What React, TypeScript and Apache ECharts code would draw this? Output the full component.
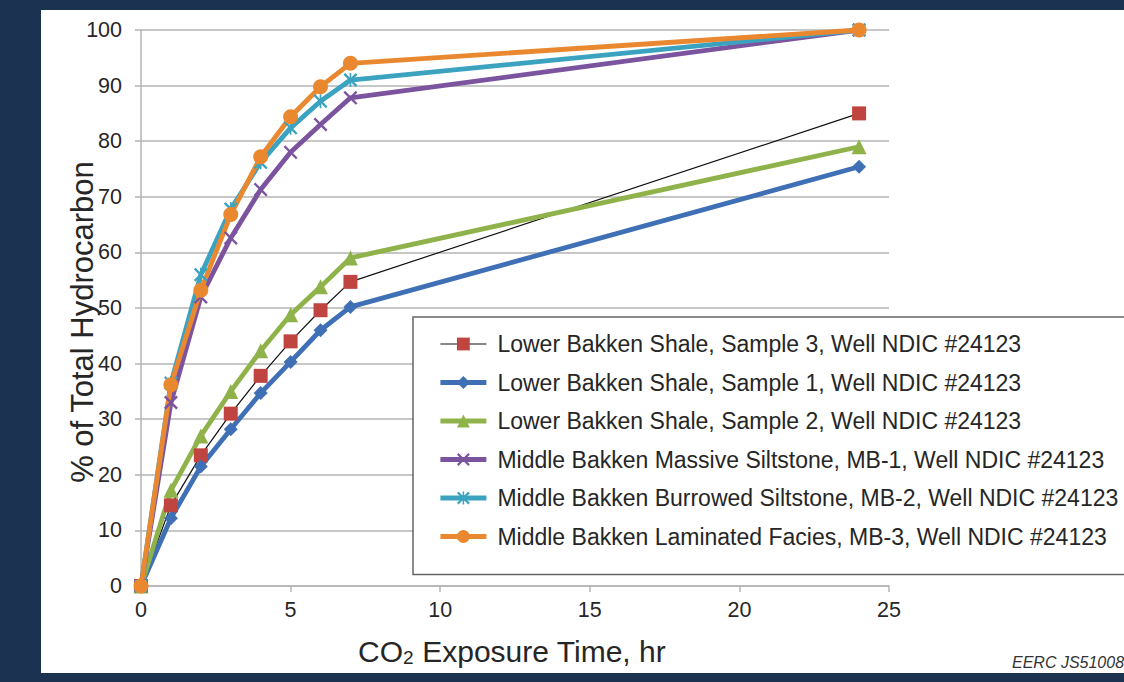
import React, { useEffect, useRef } from "react";
import * as echarts from "echarts";

const exposureHours = [0, 1, 2, 3, 4, 5, 6, 7, 24];
const seriesNames = [
  "Lower Bakken Shale, Sample 3, Well NDIC #24123",
  "Lower Bakken Shale, Sample 1, Well NDIC #24123",
  "Lower Bakken Shale, Sample 2, Well NDIC #24123",
  "Middle Bakken Massive Siltstone, MB-1, Well NDIC #24123",
  "Middle Bakken Burrowed Siltstone, MB-2, Well NDIC #24123",
  "Middle Bakken Laminated Facies, MB-3, Well NDIC #24123",
];
const lowerSample3 = [0, 14.5, 23.5, 31, 37.8, 44, 49.6, 54.7, 85];
const lowerSample1 = [0, 12.2, 21.5, 28.2, 34.7, 40.3, 46, 50.2, 75.4];
const lowerSample2 = [0, 17.2, 27, 35, 42.3, 48.8, 53.8, 59, 79];
const middleMB1 = [0, 33, 52, 62.6, 71.3, 78, 83, 87.8, 100];
const middleMB2 = [0, 36.5, 56, 67.8, 76.2, 82.4, 87.2, 91, 100];
const middleMB3 = [0, 36.2, 53.2, 66.8, 77.2, 84.4, 89.8, 94, 100];

const FONT = "'Liberation Sans', Arial, sans-serif";
const X_SYMBOL =
  "path://M0,1.2 L1.2,0 L5,3.8 L8.8,0 L10,1.2 L6.2,5 L10,8.8 L8.8,10 L5,6.2 L1.2,10 L0,8.8 L3.8,5 Z";
const STAR_SYMBOL =
  "path://M0,1.2 L1.2,0 L5,3.8 L8.8,0 L10,1.2 L6.2,5 L10,8.8 L8.8,10 L5,6.2 L1.2,10 L0,8.8 L3.8,5 Z M4.4,0 L4.4,10 L5.6,10 L5.6,0 Z";

const pairs = (ys: number[]) => exposureHours.map((x, i) => [x, ys[i]]);

export default function App() {
  const ref = useRef<HTMLDivElement>(null);
  useEffect(() => {
    if (!ref.current) return;
    const chart = echarts.init(ref.current, undefined, { renderer: "svg" });
    const thick = 4.8;
    const mk = (
      name: string,
      data: number[],
      color: string,
      symbol: string,
      size: number,
      lineColor?: string,
      lineWidth?: number
    ) => ({
      name,
      type: "line",
      data: pairs(data),
      symbol,
      symbolSize: size,
      showAllSymbol: true,
      itemStyle: { color },
      lineStyle: { color: lineColor || color, width: lineWidth || thick },
      emphasis: { disabled: true },
    });
    chart.setOption({
      animation: false,
      backgroundColor: "#1b3350",
      graphic: [
        {
          type: "rect",
          z: -10,
          shape: { x: 41, y: 10, width: 1100, height: 663 },
          style: { fill: "#ffffff" },
        },
        {
          type: "text",
          x: 82,
          y: 322,
          rotation: Math.PI / 2,
          style: {
            text: "% of Total Hydrocarbon",
            fontSize: 31,
            fontFamily: FONT,
            fill: "#262626",
            align: "center",
            verticalAlign: "middle",
          },
        },
        {
          type: "text",
          x: 512,
          y: 651,
          style: {
            text: "CO{sub|2} Exposure Time, hr",
            fontSize: 30,
            fontFamily: FONT,
            fill: "#262626",
            align: "center",
            verticalAlign: "middle",
            rich: {
              sub: {
                fontSize: 19,
                fontFamily: FONT,
                fill: "#262626",
                lineHeight: 19,
                padding: [13, 0, 0, 0],
              },
            },
          },
        },
        {
          type: "text",
          x: 1012,
          y: 662,
          style: {
            text: "EERC JS51008",
            fontSize: 16,
            fontStyle: "italic",
            fontFamily: FONT,
            fill: "#333333",
            align: "left",
            verticalAlign: "middle",
          },
        },
      ],
      grid: { left: 141, right: 235, top: 30, bottom: 96, containLabel: false },
      xAxis: {
        type: "value",
        min: 0,
        max: 25,
        interval: 5,
        axisLine: { show: true, lineStyle: { color: "#b5b5b5", width: 1.5 } },
        axisTick: { show: true, length: 6, lineStyle: { color: "#b5b5b5", width: 1.5 } },
        splitLine: { show: false },
        axisLabel: { fontSize: 21.5, color: "#262626", fontFamily: FONT, margin: 13 },
      },
      yAxis: {
        type: "value",
        min: 0,
        max: 100,
        interval: 10,
        axisLine: { show: true, lineStyle: { color: "#b5b5b5", width: 1.5 } },
        axisTick: { show: true, length: 6, lineStyle: { color: "#b5b5b5", width: 1.5 } },
        splitLine: { show: true, lineStyle: { color: "#b5b5b5", width: 1.5 } },
        axisLabel: { fontSize: 21.5, color: "#262626", fontFamily: FONT, margin: 19 },
      },
      legend: {
        orient: "vertical",
        left: 413,
        top: 317,
        data: seriesNames,
        backgroundColor: "#ffffff",
        borderColor: "#666666",
        borderWidth: 1.5,
        padding: [15, 60, 26, 25],
        itemWidth: 46,
        itemHeight: 16,
        itemGap: 14.5,
        selectedMode: false,
        lineStyle: { width: "inherit" },
        textStyle: {
          fontSize: 23,
          color: "#262626",
          fontFamily: FONT,
          lineHeight: 24,
          padding: [0, 0, 0, 6],
        },
      },
      series: [
        mk(seriesNames[0], lowerSample3, "#c0443f", "rect", 14, "#111111", 1.2),
        mk(seriesNames[1], lowerSample1, "#3f70b5", "diamond", 14),
        mk(seriesNames[2], lowerSample2, "#8fb34a", "triangle", 15),
        mk(seriesNames[3], middleMB1, "#7b539f", X_SYMBOL, 14),
        mk(seriesNames[4], middleMB2, "#3ba3c0", STAR_SYMBOL, 14),
        mk(seriesNames[5], middleMB3, "#ea8830", "circle", 15),
      ],
    });
    return () => chart.dispose();
  }, []);
  return (
    <div
      ref={ref}
      style={{ position: "fixed", left: 0, top: 0, width: 1124, height: 682 }}
    />
  );
}
